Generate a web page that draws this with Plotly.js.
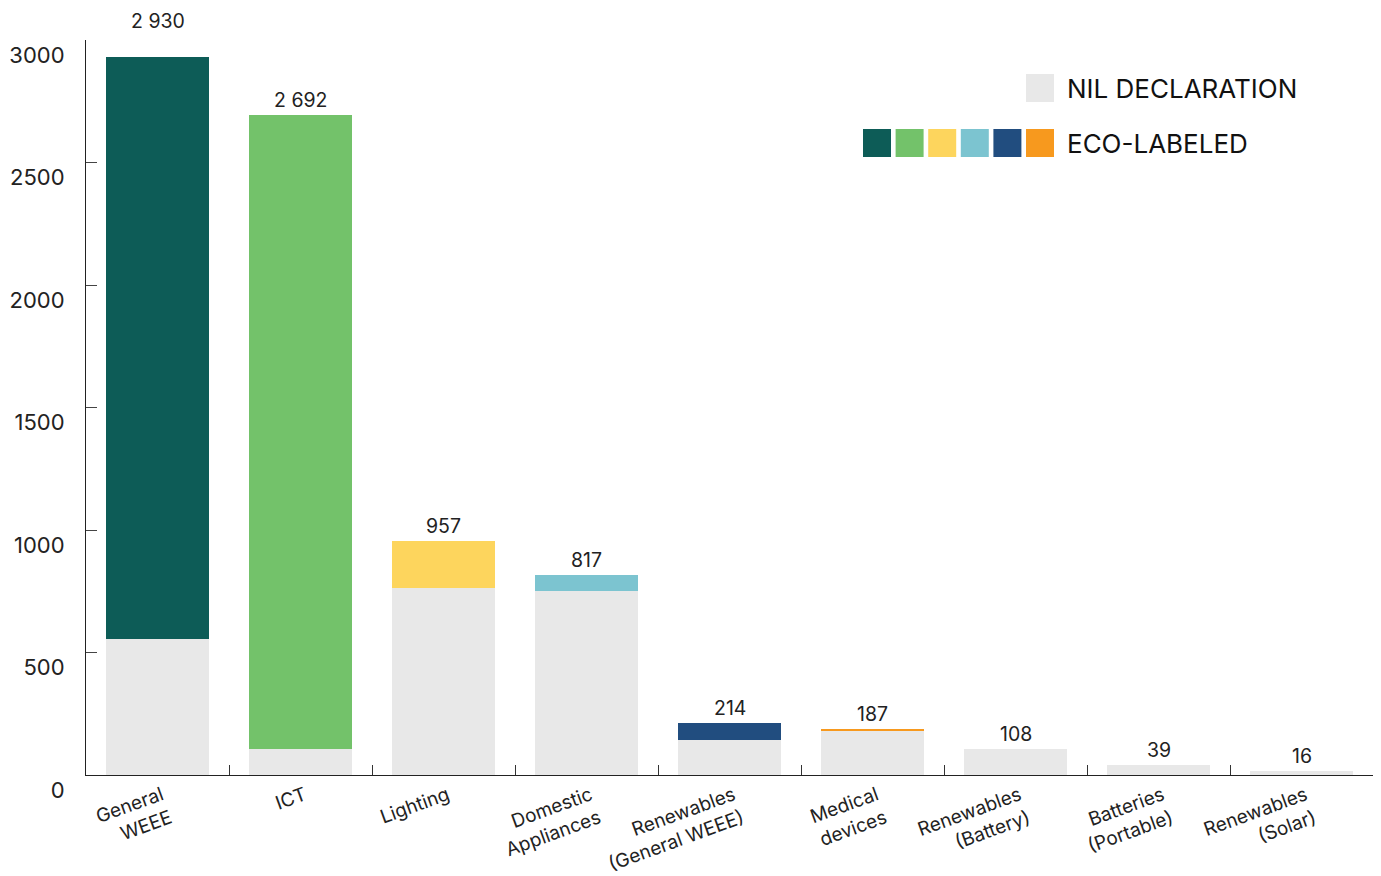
<!DOCTYPE html>
<html>
<head>
<meta charset="utf-8">
<script src="https://cdn.plot.ly/plotly-3.0.1.min.js"></script>
<style>
html,body{margin:0;padding:0;background:#fff;}
#chart{width:1381px;height:876px;}
</style>
</head>
<body>
<div id="chart"></div>
<script>
// ---- data ----
const categories = [
  "General<br>WEEE", "ICT", "Lighting", "Domestic<br>Appliances",
  "Renewables<br>(General WEEE)", "Medical<br>devices", "Renewables<br>(Battery)",
  "Batteries<br>(Portable)", "Renewables<br>(Solar)"
];
const nilDeclaration = [555, 106, 763, 751, 143, 179, 106, 39, 16];
const ecoLabeled     = [2375, 2586, 194, 66, 71, 8, 2, 0, 0];
const ecoColors = ["#0d5c57", "#73c26a", "#fdd55d", "#7cc4d0", "#214d7f", "#f7991e", "#8fc9d2", "#7cc4d0", "#7cc4d0"];
const legendColors = ["#0d5c57", "#73c26a", "#fdd55d", "#7cc4d0", "#214d7f", "#f7991e"];
const legendLabels = ["NIL DECLARATION", "ECO-LABELED"];
const yTicks = [0, 500, 1000, 1500, 2000, 2500, 3000];

const FONT = "Inter, 'Noto Sans', sans-serif";
const TXT = "#222";
const NIL_COLOR = "#e8e8e8";

// plot area in pixels
const W = 1381, H = 876;
const L = 86, R = 8, T = 40, B = 101;
const pw = W - L - R, ph = H - T - B;
const px = x => (x - L) / pw;
const py = y => (H - B - y) / ph;

const totals = nilDeclaration.map((v, i) => v + ecoLabeled[i]);
const fmt = v => String(v).replace(/\B(?=(\d{3})+(?!\d))/g, " ");

const traces = [
  {
    type: "bar", x: categories, y: nilDeclaration, name: legendLabels[0],
    marker: {color: NIL_COLOR, line: {width: 0}}, hoverinfo: "x+y"
  },
  {
    type: "bar", x: categories, y: ecoLabeled, name: legendLabels[1],
    marker: {color: ecoColors, line: {width: 0}}, hoverinfo: "x+y"
  }
];

const annotations = totals.map((t, i) => ({
  x: categories[i], y: t, xref: "x", yref: "y",
  text: fmt(t),
  showarrow: false, yanchor: "middle", yshift: i === 0 ? 36 : 15,
  font: {family: FONT, size: 19.5, color: TXT}
}));

// legend
const shapes = [];
shapes.push({type: "rect", xref: "paper", yref: "paper",
  x0: px(1026), x1: px(1054), y0: py(102), y1: py(74),
  fillcolor: NIL_COLOR, line: {width: 0}});
legendColors.forEach((c, i) => {
  const x0 = 863 + i * 32.6;
  shapes.push({type: "rect", xref: "paper", yref: "paper",
    x0: px(x0), x1: px(x0 + 28), y0: py(157), y1: py(129),
    fillcolor: c, line: {width: 0}});
});
annotations.push({xref: "paper", yref: "paper", x: px(1065), y: py(88),
  xanchor: "left", yanchor: "middle", showarrow: false, text: legendLabels[0],
  font: {family: FONT, size: 26, color: "#111"}});
annotations.push({xref: "paper", yref: "paper", x: px(1065), y: py(143),
  xanchor: "left", yanchor: "middle", showarrow: false, text: legendLabels[1],
  font: {family: FONT, size: 26, color: "#111"}});

const layout = {
  width: W, height: H,
  margin: {l: L, r: R, t: T, b: B, pad: 0},
  paper_bgcolor: "#fff", plot_bgcolor: "#fff",
  barmode: "stack", bargap: 0.273,
  showlegend: false,
  font: {family: FONT, color: TXT},
  xaxis: {
    type: "category", showline: true, linecolor: "#222", linewidth: 1,
    ticks: "inside", tickson: "boundaries", ticklen: 10, tickcolor: "#333", tickwidth: 1,
    tickangle: -20, tickfont: {family: FONT, size: 19, color: TXT},
    ticklabelshift: 4, ticklabelstandoff: 1,
    showgrid: false, zeroline: false, fixedrange: true
  },
  yaxis: {
    range: [0, 3000], showline: true, linecolor: "#222", linewidth: 1,
    ticks: "inside", ticklen: 11, tickcolor: "#444", tickwidth: 1,
    tickvals: yTicks, ticktext: yTicks.map(String),
    tickfont: {family: FONT, size: 22, color: TXT},
    ticklabelshift: 15, ticklabelstandoff: 16,
    showgrid: false, zeroline: false, fixedrange: true
  },
  shapes: shapes,
  annotations: annotations
};

Plotly.newPlot("chart", traces, layout, {displayModeBar: false, staticPlot: true});
</script>
</body>
</html>
